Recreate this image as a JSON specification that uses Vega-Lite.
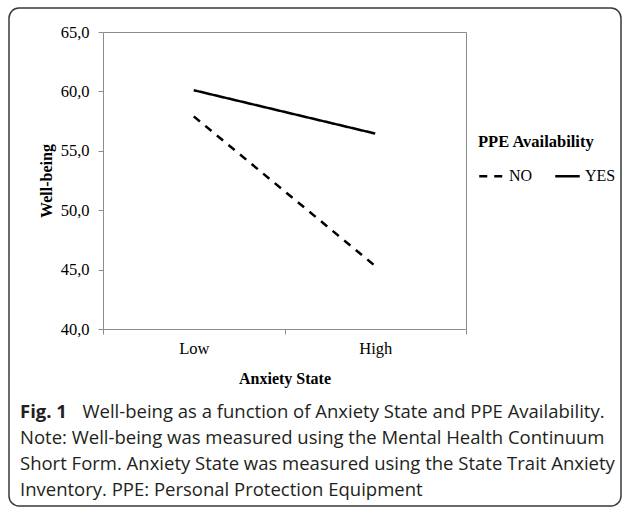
{
  "$schema": "https://vega.github.io/schema/vega-lite/v6.json",
  "width": 612,
  "height": 498,
  "autosize": {"type": "none"},
  "padding": {"left": 9, "top": 8, "right": 9, "bottom": 5},
  "background": "white",
  "data": {"values": [
    {"anxiety": "Low", "ppe": "NO", "wellbeing": 57.9},
    {"anxiety": "High", "ppe": "NO", "wellbeing": 45.3},
    {"anxiety": "Low", "ppe": "YES", "wellbeing": 60.1},
    {"anxiety": "High", "ppe": "YES", "wellbeing": 56.45}
  ]},
  "title": {
    "text": "Fig. 1",
    "subtitle": [
      "\u200b\u00a0\u00a0\u00a0\u00a0\u00a0\u00a0\u00a0\u00a0\u00a0\u00a0\u00a0\u00a0\u00a0Well-being as a function of Anxiety State and PPE Availability.",
      "Note: Well-being was measured using the Mental Health Continuum",
      "Short Form. Anxiety State was measured using the State Trait Anxiety",
      "Inventory. PPE: Personal Protection Equipment"
    ],
    "orient": "bottom",
    "anchor": "start",
    "frame": "group",
    "offset": -103,
    "dx": 11,
    "font": "Open Sans",
    "fontSize": 18.5,
    "fontWeight": "bold",
    "color": "#231f20",
    "subtitleFont": "Open Sans",
    "subtitleFontSize": 18.5,
    "subtitleFontWeight": "normal",
    "subtitleColor": "#231f20",
    "subtitleLineHeight": 26,
    "subtitlePadding": -18.5,
    "limit": 0
  },
  "layer": [
    {
      "mark": {"type": "line", "color": "black", "strokeWidth": 2.5},
      "encoding": {
        "x": {
          "field": "anxiety", "type": "nominal", "sort": ["Low", "High"],
          "scale": {"type": "band", "range": [94, 457], "paddingInner": 0, "paddingOuter": 0},
          "axis": {
            "orient": "bottom", "offset": -177, "tickBand": "extent", "tickSize": 5,
            "labelAngle": 0, "labelPadding": 6, "labelFont": "Liberation Serif", "labelFontSize": 16.5,
            "labelColor": "black", "tickColor": "#8c8c8c", "domainColor": "#8c8c8c", "grid": false,
            "title": "Anxiety State", "titleFont": "Liberation Serif", "titleFontSize": 16,
            "titleFontWeight": "bold", "titleColor": "black", "titlePadding": 14
          }
        },
        "y": {
          "field": "wellbeing", "type": "quantitative",
          "scale": {"domain": [40, 65], "range": [321, 24], "nice": false, "zero": false},
          "axis": {
            "orient": "left", "offset": -94, "values": [40, 45, 50, 55, 60, 65],
            "labelExpr": "replace(format(datum.value, '.1f'), '.', ',')",
            "labelFont": "Liberation Serif", "labelFontSize": 16.5, "labelColor": "black",
            "labelPadding": 9, "tickSize": 5, "tickColor": "#8c8c8c", "domainColor": "#8c8c8c",
            "grid": false, "title": "Well-being", "titleFont": "Liberation Serif", "titleFontSize": 16,
            "titleFontWeight": "bold", "titleColor": "black", "titlePadding": 6
          }
        },
        "strokeDash": {
          "field": "ppe", "type": "nominal",
          "scale": {"domain": ["NO", "YES"], "range": [[8, 7], [1, 0]]},
          "legend": {
            "orient": "none", "legendX": 469, "legendY": 126, "direction": "horizontal",
            "title": "PPE Availability", "titleFont": "Liberation Serif", "titleFontSize": 16.5,
            "titleFontWeight": "bold", "titleColor": "black", "titlePadding": 12,
            "labelFont": "Liberation Serif", "labelFontSize": 16, "labelColor": "black",
            "symbolType": "stroke", "symbolSize": 600, "symbolStrokeWidth": 2.5,
            "symbolStrokeColor": "black", "labelOffset": 4, "columnPadding": 17, "padding": 0
          }
        }
      }
    },
    {
      "mark": {"type": "line", "strokeOpacity": 0},
      "encoding": {
        "x": {
          "field": "anxiety", "type": "nominal", "sort": ["Low", "High"],
          "axis": {"orient": "top", "offset": -24, "labels": false, "ticks": false, "title": null, "grid": false, "domainColor": "#8c8c8c"}
        },
        "y": {
          "field": "wellbeing", "type": "quantitative",
          "axis": {"orient": "right", "offset": -155, "labels": false, "ticks": false, "title": null, "grid": false, "domainColor": "#8c8c8c"}
        },
        "detail": {"field": "ppe", "type": "nominal"}
      }
    }
  ],
  "resolve": {"axis": {"x": "independent", "y": "independent"}},
  "config": {
    "view": {"stroke": "#3a3a3a", "strokeWidth": 1.5, "cornerRadius": 10}
  }
}
